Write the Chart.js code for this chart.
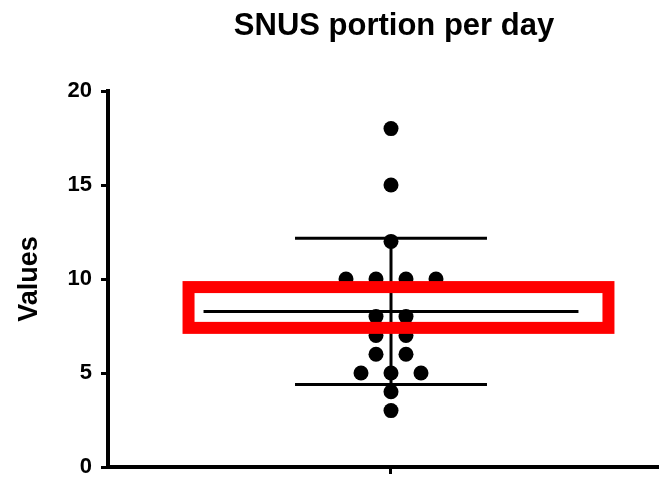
<!DOCTYPE html>
<html>
<head>
<meta charset="utf-8">
<script src="https://cdn.jsdelivr.net/npm/chart.js@4/dist/chart.umd.min.js"></script>
<style>
  html, body { margin: 0; padding: 0; background: #fff; overflow: hidden; }
  #wrap { width: 659px; height: 479px; position: relative; overflow: hidden; }
  #dotplot { display: block; }
</style>
</head>
<body>
<div id="wrap"><canvas id="dotplot"></canvas></div>
<script>
// data
var chartTitle = "SNUS portion per day";
var yLabel = "Values";
var values = [18, 15, 12, 10, 10, 10, 10, 8, 8, 7, 7, 6, 6, 5, 5, 5, 4, 3];
var yTicks = [0, 5, 10, 15, 20];
// highlighted band around the mean (x in dot-spacing units, y in values)
var boxX = [-13.5, 14.5];
var boxY = [7.4, 9.57];

var font = "'Liberation Sans', Arial, sans-serif";

// mean and SD
var n = values.length;
var mean = values.reduce(function(a, b) { return a + b; }, 0) / n;
var sd = Math.sqrt(values.reduce(function(a, v) { return a + (v - mean) * (v - mean); }, 0) / (n - 1));

// spread equal values side by side
var counts = {}, seen = {};
values.forEach(function(v) { counts[v] = (counts[v] || 0) + 1; });
var dots = values.map(function(v) {
  var i = seen[v] || 0;
  seen[v] = i + 1;
  return { x: (i - (counts[v] - 1) / 2) * 2, y: v };
});

function seg(x1, y1, x2, y2) {
  return {
    type: 'line',
    data: [{ x: x1, y: y1 }, { x: x2, y: y2 }],
    borderColor: '#000',
    borderWidth: 3,
    pointRadius: 0,
    borderCapStyle: 'butt'
  };
}

var boxPlugin = {
  id: 'meanBox',
  afterDraw: function(chart) {
    var ctx = chart.ctx, xs = chart.scales.x, ys = chart.scales.y;
    ctx.save();
    ctx.strokeStyle = '#ff0000';
    ctx.lineWidth = 12;
    var l = xs.getPixelForValue(boxX[0]), r = xs.getPixelForValue(boxX[1]);
    var t = ys.getPixelForValue(boxY[1]), b = ys.getPixelForValue(boxY[0]);
    ctx.strokeRect(l, t, r - l, b - t);
    // title
    ctx.fillStyle = '#000';
    ctx.font = 'bold 31px ' + font;
    ctx.textAlign = 'center';
    ctx.textBaseline = 'alphabetic';
    ctx.fillText(chartTitle, 394, 35);
    ctx.restore();
  }
};

new Chart(document.getElementById("dotplot"), {
  type: 'scatter',
  data: {
    datasets: [
      seg(-12.5, mean, 12.5, mean),
      seg(0, mean - sd, 0, mean + sd),
      seg(-6.4, mean + sd, 6.4, mean + sd),
      seg(-6.4, mean - sd, 6.4, mean - sd),
      {
        data: dots,
        backgroundColor: '#000',
        borderWidth: 0,
        pointRadius: 7.5,
        pointHoverRadius: 7.5
      }
    ]
  },
  options: {
    responsive: true,
    maintainAspectRatio: false,
    animation: false,
    layout: { autoPadding: false, padding: { top: 91, right: 0, left: 0, bottom: 0 } },
    plugins: {
      legend: { display: false },
      tooltip: { enabled: false },
      title: { display: false }
    },
    scales: {
      x: {
        type: 'linear',
        min: -18.87,
        max: 17.87,
        afterBuildTicks: function(s) { s.ticks = [{ value: 0 }]; },
        afterFit: function(s) { s.height = 12; s.paddingLeft = 0; s.paddingRight = 0; },
        ticks: { display: false },
        grid: { drawOnChartArea: false, drawTicks: true, tickLength: 7, tickWidth: 3, tickColor: '#000' },
        border: { display: true, color: '#000', width: 4 }
      },
      y: {
        min: 0,
        max: 20,
        afterBuildTicks: function(s) { s.ticks = yTicks.map(function(v) { return { value: v }; }); },
        afterFit: function(s) { s.width = 108; s.paddingTop = 0; s.paddingBottom = 0; },
        ticks: { color: '#000', padding: 9, font: { family: font, size: 22, weight: 'bold' } },
        grid: { drawOnChartArea: false, drawTicks: true, tickLength: 7, tickWidth: 3, tickColor: '#000' },
        border: { display: true, color: '#000', width: 4 },
        title: {
          display: true,
          text: yLabel,
          color: '#000',
          padding: { top: 13, bottom: 0 },
          font: { family: font, size: 27, weight: 'bold' }
        }
      }
    }
  },
  plugins: [boxPlugin]
});
</script>
</body>
</html>
